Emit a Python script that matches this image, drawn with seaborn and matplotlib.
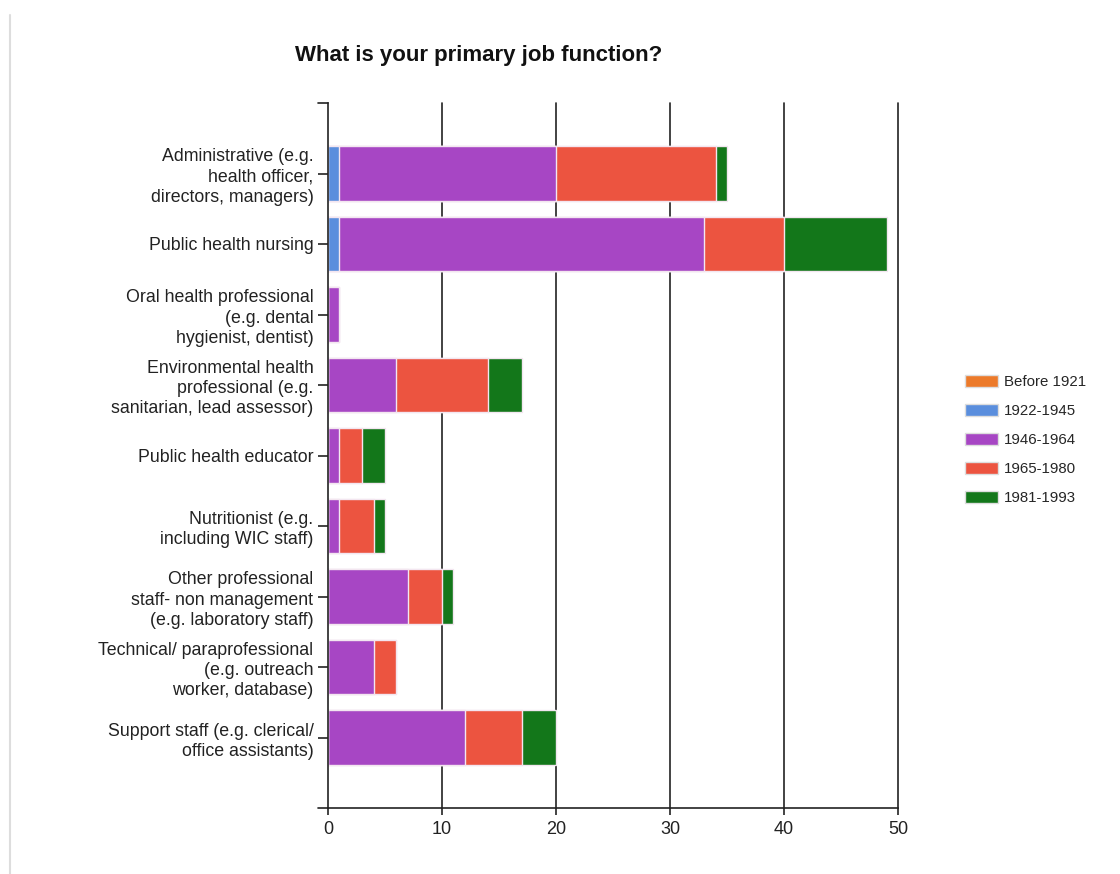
import matplotlib
matplotlib.use("Agg")
import matplotlib.pyplot as plt
import matplotlib.patches as mpatches
from matplotlib.lines import Line2D
import numpy as np
import pandas as pd
import seaborn as sns

categories = [
    "Administrative (e.g.\nhealth officer,\ndirectors, managers)",
    "Public health nursing",
    "Oral health professional\n(e.g. dental\nhygienist, dentist)",
    "Environmental health\nprofessional (e.g.\nsanitarian, lead assessor)",
    "Public health educator",
    "Nutritionist (e.g.\nincluding WIC staff)",
    "Other professional\nstaff- non management\n(e.g. laboratory staff)",
    "Technical/ paraprofessional\n(e.g. outreach\nworker, database)",
    "Support staff (e.g. clerical/\noffice assistants)",
]
series_names = ["Before 1921", "1922-1945", "1946-1964", "1965-1980", "1981-1993"]
before_1921 = [0, 0, 0, 0, 0, 0, 0, 0, 0]
y1922_1945 = [1, 1, 0, 0, 0, 0, 0, 0, 0]
y1946_1964 = [19, 32, 1, 6, 1, 1, 7, 4, 12]
y1965_1980 = [14, 7, 0, 8, 2, 3, 3, 2, 5]
y1981_1993 = [1, 9, 0, 3, 2, 1, 1, 0, 3]
colors = ["#EC7A2A", "#5A8EDD", "#A746C4", "#EC5440", "#13771A"]
x_ticks = [0, 10, 20, 30, 40, 50]
title = "What is your primary job function?"

sns.set_theme(style="white")
plt.rcParams["font.family"] = ["Liberation Sans", "DejaVu Sans"]

series = [before_1921, y1922_1945, y1946_1964, y1965_1980, y1981_1993]
df = pd.DataFrame({"category": categories})
cum = np.zeros(len(categories))
for name, vals in zip(series_names, series):
    cum = cum + np.array(vals)
    df[name] = cum

fig = plt.figure(figsize=(11.2, 8.74), dpi=100)
ax = fig.add_axes([328 / 1120, 1 - 808 / 874, (898 - 328) / 1120, (808 - 103) / 874])

# gridlines behind bars
for t in x_ticks[1:]:
    ax.axvline(t, color="#222222", lw=1.2, zorder=0, clip_on=False)

for name, col in reversed(list(zip(series_names, colors))):
    if df[name].max() == 0:
        continue
    sns.barplot(data=df, x=name, y="category", order=categories, color=col,
                orient="h", width=0.78, edgecolor="#f3e6f0", linewidth=1.0,
                saturation=1, ax=ax, zorder=2)

ax.set_xlim(0, 50)
ax.set_ylim(9, -1)
ax.set_xticks(x_ticks)
ax.set_xticklabels([str(t) for t in x_ticks], fontsize=13, color="#222222")
ax.set_xlabel("")
ax.set_ylabel("")
ax.set_yticks(range(len(categories)))
ax.set_yticklabels(categories, fontsize=12.8, color="#222222", linespacing=1.25)

for s in ["top", "right"]:
    ax.spines[s].set_visible(False)
ax.spines["left"].set_color("#222222")
ax.spines["bottom"].set_color("#222222")
ax.spines["left"].set_linewidth(1.2)
ax.spines["bottom"].set_linewidth(1.2)
ax.tick_params(axis="y", left=True, length=7.5, width=1.2, color="#222222", pad=3)
ax.tick_params(axis="x", bottom=True, length=5, width=1.2, color="#222222", pad=4)

# top/bottom extension ticks on the y axis
ax.plot([-0.9, 0], [-1, -1], color="#222222", lw=1.2, clip_on=False)
ax.plot([-0.9, 0], [9, 9], color="#222222", lw=1.2, clip_on=False)

fig.text(479 / 1120, 1 - 56 / 874, title, ha="center", va="center",
         fontsize=16, fontweight="bold", color="#111111")

handles = [mpatches.Patch(facecolor=c, edgecolor="#dddddd", label=n)
           for n, c in zip(series_names, colors)]
fig.legend(handles=handles, loc="center left", bbox_to_anchor=(951 / 1120, 1 - 440 / 874),
           frameon=False, fontsize=10.8, handlelength=2.2, handleheight=0.8,
           labelspacing=1.0, handletextpad=0.45)

fig.add_artist(Line2D([10 / 1120, 10 / 1120], [1 - 15 / 874, 0], color="#dddddd", lw=1.5))

fig.savefig("out.png", dpi=100)
